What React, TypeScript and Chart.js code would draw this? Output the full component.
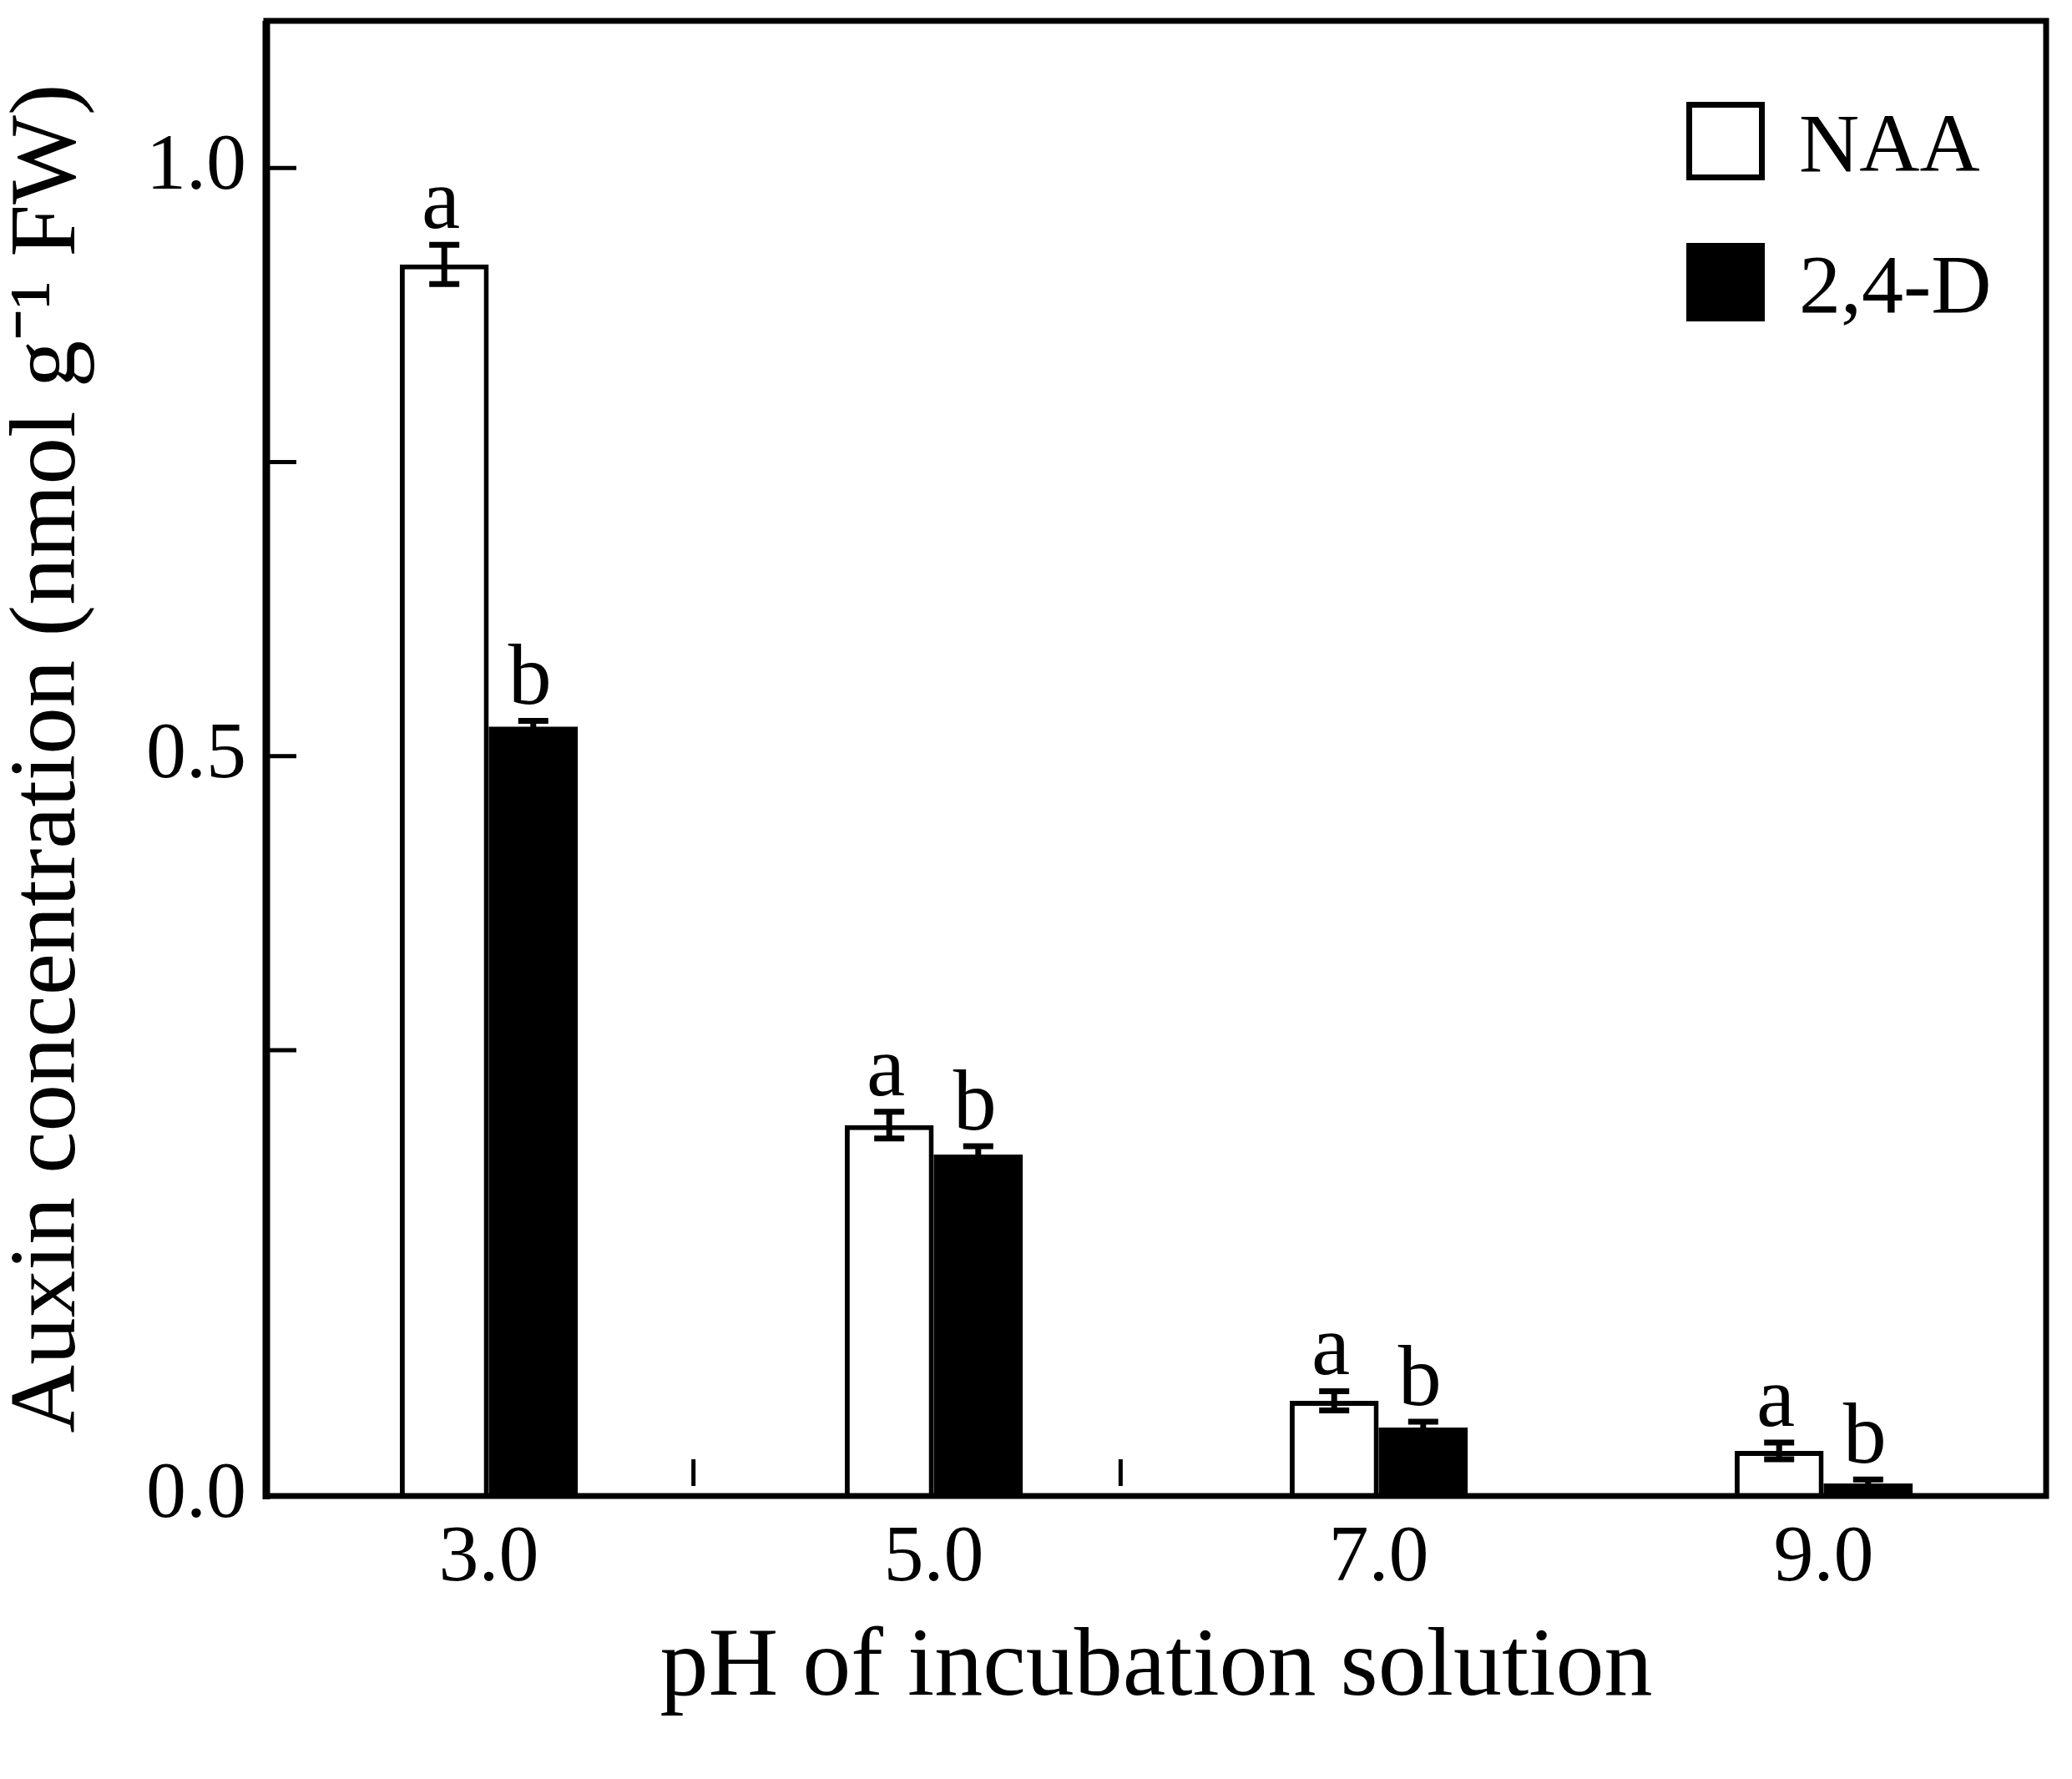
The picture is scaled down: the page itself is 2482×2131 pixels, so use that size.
import { useEffect, useRef } from "react"
import { Chart, registerables, LinearScale } from "chart.js"

// pH of the incubation solution
const phLabels = ["3.0", "5.0", "7.0", "9.0"]

// auxin concentration, nmol g-1 FW
const naaValues = [0.918, 0.208, 0.0534, 0.0253]
const naaErrors = [0.0167, 0.0075, 0.0054, 0.0047]
const d24Values = [0.525, 0.1915, 0.0384, 0.007]
const d24Errors = [0.005, 0.0047, 0.0033, 0.0023]

// significance letters
const naaLetters = ["a", "a", "a", "a"]
const d24Letters = ["b", "b", "b", "b"]

// y axis ticks
const yTickValues = [0, 0.25, 0.5, 0.75, 1.0]
const yTickLabels = ["0.0", "", "0.5", "", "1.0"]
const yMax = 1.125

// the little marks standing on the x axis (category index units)
const xMinorTicks = [0.46, 1.42]

// the original axis is stretched below 0.25
const BREAK_VALUE = 0.25
const BREAK_FRACTION = 0.3022

const FONT = "'Liberation Serif', 'Times New Roman', serif"

class BrokenLinearScale extends LinearScale {
  static id = "brokenLinear"
  static defaults = LinearScale.defaults

  getPixelForValue(value: number) {
    if (value === null || value === undefined || Number.isNaN(value)) return NaN
    const { min, max } = this
    let d
    if (value <= BREAK_VALUE) {
      d = ((value - min) / (BREAK_VALUE - min)) * BREAK_FRACTION
    } else {
      d = BREAK_FRACTION + ((value - BREAK_VALUE) / (max - BREAK_VALUE)) * (1 - BREAK_FRACTION)
    }
    return this.getPixelForDecimal(d)
  }

  getValueForPixel(pixel: number) {
    const { min, max } = this
    const d = this.getDecimalForPixel(pixel)
    if (d <= BREAK_FRACTION) return min + (d / BREAK_FRACTION) * (BREAK_VALUE - min)
    return BREAK_VALUE + ((d - BREAK_FRACTION) / (1 - BREAK_FRACTION)) * (max - BREAK_VALUE)
  }
}

Chart.register(...registerables, BrokenLinearScale)

const errorSets = [naaErrors, d24Errors]
const letterSets = [naaLetters, d24Letters]

const errorBarPlugin = {
  id: "errorBars",
  afterDatasetsDraw(chart: any) {
    const { ctx } = chart
    const y = chart.scales.y
    ctx.save()
    chart.data.datasets.forEach((ds: any, di: number) => {
      const meta = chart.getDatasetMeta(di)
      meta.data.forEach((bar: any, i: number) => {
        const v = ds.data[i] as number
        const e = errorSets[di][i]
        const top = y.getPixelForValue(v + e)
        const bot = y.getPixelForValue(v - e)
        ctx.strokeStyle = "#000"
        ctx.lineWidth = 7
        ctx.beginPath()
        ctx.moveTo(bar.x, top)
        ctx.lineTo(bar.x, bot)
        ctx.moveTo(bar.x - 18, top)
        ctx.lineTo(bar.x + 18, top)
        ctx.moveTo(bar.x - 18, bot)
        ctx.lineTo(bar.x + 18, bot)
        ctx.stroke()

        ctx.fillStyle = "#000"
        ctx.font = `104px ${FONT}`
        ctx.textAlign = "center"
        ctx.textBaseline = "alphabetic"
        ctx.fillText(letterSets[di][i], bar.x - 4, top - 20)
      })
    })
    ctx.restore()
  },
}

const framePlugin = {
  id: "frame",
  afterDraw(chart: any) {
    const { ctx, chartArea } = chart
    const { left, right, top, bottom } = chartArea
    const x = chart.scales.x
    const y = chart.scales.y
    ctx.save()
    ctx.strokeStyle = "#000"
    ctx.lineWidth = 7
    ctx.strokeRect(left, top, right - left, bottom - top)
    ctx.lineWidth = 9
    ctx.beginPath()
    ctx.moveTo(left, top)
    ctx.lineTo(left, bottom + 4)
    ctx.stroke()

    // inward ticks on the y axis
    ctx.lineWidth = 5
    ctx.beginPath()
    y.ticks.forEach((t: any) => {
      if (t.value <= 0) return
      const py = y.getPixelForValue(t.value)
      ctx.moveTo(left, py)
      ctx.lineTo(left + 36, py)
    })
    ctx.stroke()

    // small marks on the x axis
    ctx.beginPath()
    xMinorTicks.forEach((v) => {
      const px = x.getPixelForValue(v)
      ctx.moveTo(px, bottom - 12)
      ctx.lineTo(px, bottom - 44)
    })
    ctx.stroke()

    // legend
    chart.data.datasets.forEach((ds: any, i: number) => {
      const bx = right - 431
      const by = top + 97 + i * 169
      ctx.fillStyle = ds.backgroundColor
      ctx.fillRect(bx, by, 94, 94)
      ctx.lineWidth = 7
      ctx.strokeStyle = "#000"
      ctx.strokeRect(bx + 3.5, by + 3.5, 87, 87)
      ctx.fillStyle = "#000"
      ctx.font = `100px ${FONT}`
      ctx.textAlign = "left"
      ctx.textBaseline = "alphabetic"
      ctx.fillText(ds.label, bx + 135, by + 47 + 36)
    })
    ctx.restore()
  },
}

function AuxinChart() {
  const chartRef = useRef<HTMLCanvasElement>(null)
  const chartInstance = useRef<Chart | null>(null)

  useEffect(() => {
    if (!chartRef.current) return
    if (chartInstance.current) chartInstance.current.destroy()

    const ctx = chartRef.current.getContext("2d")
    if (!ctx) return

    chartInstance.current = new Chart(ctx, {
      type: "bar",
      data: {
        labels: phLabels,
        datasets: [
          {
            label: "NAA",
            data: naaValues,
            backgroundColor: "#ffffff",
            borderColor: "#000000",
            borderWidth: 6,
            categoryPercentage: 0.4,
            barPercentage: 1.0,
          },
          {
            label: "2,4-D",
            data: d24Values,
            backgroundColor: "#000000",
            borderColor: "#000000",
            borderWidth: 0,
            categoryPercentage: 0.4,
            barPercentage: 1.0,
          },
        ],
      },
      options: {
        responsive: false,
        animation: false,
        devicePixelRatio: 1,
        layout: { padding: { top: 25, right: 31, left: 0, bottom: 0 } },
        plugins: {
          legend: { display: false },
          tooltip: { enabled: false },
        },
        scales: {
          x: {
            type: "category",
            grid: { display: false, drawTicks: false },
            border: { display: false },
            ticks: {
              color: "#000",
              padding: 18,
              font: { family: FONT, size: 96 },
            },
            title: {
              display: true,
              text: "pH of incubation solution",
              color: "#000",
              font: { family: FONT, size: 116, lineHeight: 1 },
              padding: { top: 0, bottom: 73 },
            },
            afterFit(scale: any) {
              scale.height = 339
              scale.paddingLeft = 0
              scale.paddingRight = 0
            },
          },
          y: {
            type: "brokenLinear" as any,
            min: 0,
            max: yMax,
            grid: { display: false, drawTicks: false },
            border: { display: false },
            afterBuildTicks(scale: any) {
              scale.ticks = yTickValues.map((v) => ({ value: v }))
            },
            ticks: {
              color: "#000",
              padding: 24,
              font: { family: FONT, size: 96 },
              callback: (value: any) => {
                const i = yTickValues.indexOf(Number(value))
                return i >= 0 ? yTickLabels[i] : ""
              },
            },
            title: {
              display: true,
              text: "Auxin concentration (nmol g\u207B\u00B9 FW)",
              color: "#000",
              font: { family: FONT, size: 113, lineHeight: 1 },
              padding: { top: 3, bottom: 0 },
            },
            afterFit(scale: any) {
              scale.width = 319
              scale.paddingTop = 0
              scale.paddingBottom = 0
            },
          },
        },
      } as any,
      plugins: [errorBarPlugin, framePlugin],
    })

    return () => {
      if (chartInstance.current) {
        chartInstance.current.destroy()
        chartInstance.current = null
      }
    }
  }, [])

  return <canvas ref={chartRef} width={2482} height={2131} style={{ display: "block" }} />
}

export default function App() {
  return (
    <div style={{ position: "absolute", left: 0, top: 0, width: 2482, height: 2131, background: "#fff" }}>
      <AuxinChart />
    </div>
  )
}
